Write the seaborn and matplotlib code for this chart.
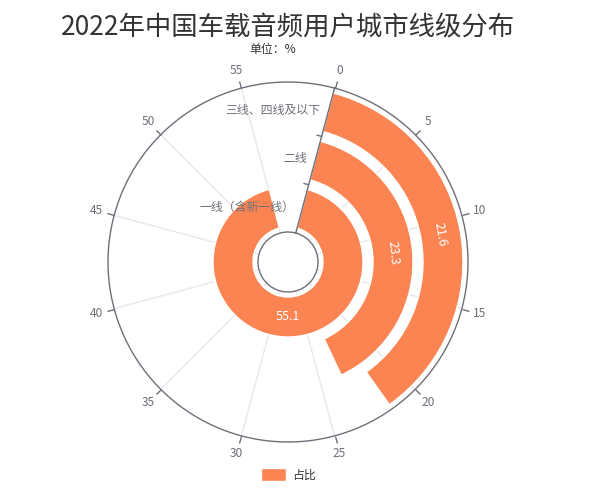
import numpy as np
import pandas as pd
import matplotlib
matplotlib.use('Agg')
import matplotlib.pyplot as plt
from matplotlib.patches import Patch
import seaborn as sns

# data
cities = ['一线（含新一线）', '二线', '三线、四线及以下']
shares = [55.1, 23.3, 21.6]
angle_ticks = [0, 5, 10, 15, 20, 25, 30, 35, 40, 45, 50, 55]

AXIS_MAX = 60      # angle axis max
START_DEG = 15     # 0 sits 15 deg clockwise from top
ORANGE = '#fc8452'
AXIS_GREY = '#6E7079'

sns.set_style('white')
plt.rcParams['font.family'] = ['Noto Sans CJK SC', 'DejaVu Sans']

df = pd.DataFrame({'city': cities, 'share': shares})
df['theta'] = df['share'] / AXIS_MAX * 2 * np.pi

W, H = 607, 497
fig = plt.figure(figsize=(W / 100, H / 100), dpi=100)
cx, cy, R = 288, 262, 180
ax = fig.add_axes([(cx - R) / W, (H - cy - R) / H, 2 * R / W, 2 * R / H],
                  projection='polar')
ax.set_theta_zero_location('N', offset=-START_DEG)
ax.set_theta_direction(-1)

sns.barplot(data=df, x='theta', y='city', order=cities, orient='h',
            color=ORANGE, saturation=1, width=0.8, errorbar=None, ax=ax,
            zorder=3)

ax.set_ylim(-0.5, 2.5)
ax.set_rorigin(-1.1)
ax.set_xlabel('')
ax.set_ylabel('')
ax.set_yticks([])
ax.yaxis.grid(False)

ax.set_xticks([v / AXIS_MAX * 2 * np.pi for v in angle_ticks])
ax.set_xticklabels([str(v) for v in angle_ticks])
ax.xaxis.grid(True, color='#E6E8EE', lw=1)
ax.tick_params(axis='x', colors=AXIS_GREY, labelsize=8.6, pad=1,
               bottom=False, top=True, labelbottom=True, labeltop=False,
               direction='out', length=5, width=1)
for s in ax.spines.values():
    s.set_color(AXIS_GREY)
    s.set_linewidth(1)

# radius axis line at angle 0
ax.plot([0, 0], [-0.5, 2.5], color=AXIS_GREY, lw=1, zorder=4)
d = np.deg2rad(START_DEG)
for r in [0.5, 1.5]:
    ax.annotate('', xy=(0, r), xytext=(-5 * np.cos(d), 5 * np.sin(d)),
                textcoords='offset pixels',
                arrowprops=dict(arrowstyle='-', color=AXIS_GREY, lw=1,
                                shrinkA=0, shrinkB=0))
for i, name in enumerate(cities):
    ax.annotate(name, xy=(0, i), xytext=(-8, 2), textcoords='offset pixels',
                ha='right', va='center', fontsize=8.6, color=AXIS_GREY,
                zorder=5)

# value labels, tangential
for i, row in df.iterrows():
    mid = row['theta'] / 2
    rot = -(START_DEG + np.rad2deg(mid))
    while rot < -90:
        rot += 180
    ax.text(mid, i, f"{row['share']:.1f}", rotation=rot, rotation_mode='anchor',
            ha='center', va='center', color='white', fontsize=9, zorder=6)

fig.text(cx / W, 1 - 28 / H, '2022年中国车载音频用户城市线级分布',
         ha='center', va='center', fontsize=19, color='#333333')
fig.text(273 / W, 1 - 50 / H, '单位：%', ha='center', va='center',
         fontsize=8.6, color='#333333')

fig.legend(handles=[Patch(facecolor=ORANGE, label='占比')], loc='center',
           bbox_to_anchor=(cx / W, 1 - 475 / H), frameon=False, fontsize=8.6,
           handlelength=2.1, handleheight=1.2, handletextpad=0.5,
           labelcolor='#333333')

fig.savefig('out.png', dpi=100)
